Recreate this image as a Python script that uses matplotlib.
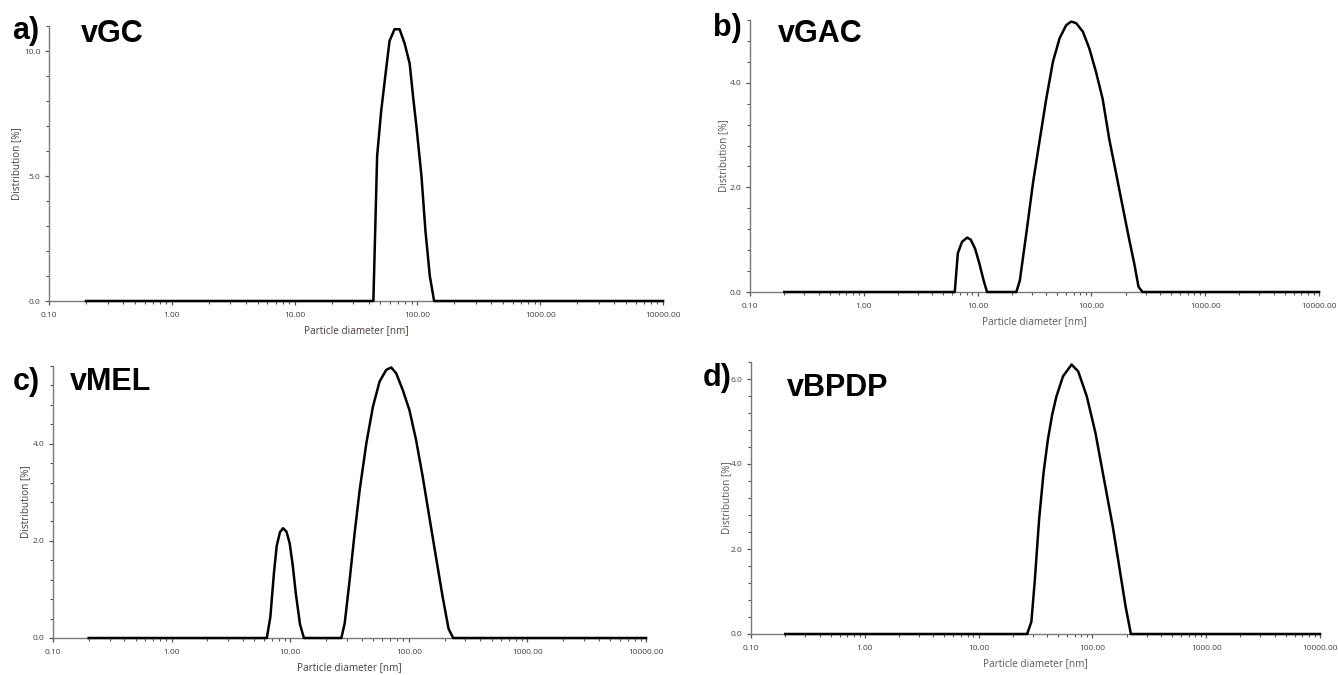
import numpy as np
import matplotlib.pyplot as plt
from matplotlib.ticker import MultipleLocator, LogLocator, FixedLocator, FixedFormatter, NullFormatter

# particle size distributions (diameter in nm, distribution in %)
d_vgc = [0.2, 43.8, 47.0, 50.7, 55.7, 59.3, 65.1, 71.6, 78.7, 86.5, 92.1, 98.1, 107.9, 116.3, 126.2, 136.8, 10000]
v_vgc = [0, 0, 5.8, 7.6, 9.3, 10.4, 10.87, 10.87, 10.3, 9.5, 8.2, 7.0, 5.0, 2.8, 1.0, 0, 0]

d_vgac = [0.2, 6.3, 6.7, 7.3, 8.1, 8.7, 9.5, 10.35, 11.3, 12.1,
          21.9, 23.5, 26.8, 30.7, 35.1, 40.1, 45.9, 52.5, 60.0, 66.4, 73.4, 84.0, 96.1,
          110, 125.6, 143.6, 164.4, 187.9, 215, 237.7, 259.4, 281, 10000]
v_vgac = [0, 0, 0.74, 0.96, 1.04, 1.0, 0.83, 0.55, 0.22, 0,
          0, 0.22, 1.12, 2.09, 2.9, 3.69, 4.4, 4.85, 5.1, 5.17, 5.14, 4.98, 4.65,
          4.2, 3.69, 2.92, 2.28, 1.64, 1.0, 0.55, 0.1, 0, 0]

d_vmel = [0.2, 6.35, 6.8, 7.3, 7.7, 8.2, 8.7, 9.3, 9.9, 10.5, 11.2, 12.1, 13.05,
          27.0, 28.8, 31.7, 34.9, 38.5, 43.8, 49.8, 56.7, 64.5, 71.1, 78.3, 89.1,
          101.3, 115.1, 131, 149, 169.4, 192.8, 216.4, 236.6, 10000]
v_vmel = [0, 0, 0.43, 1.35, 1.9, 2.18, 2.26, 2.19, 1.95, 1.5, 0.88, 0.28, 0,
          0, 0.3, 1.19, 2.15, 3.04, 4.0, 4.76, 5.28, 5.52, 5.57, 5.45, 5.1,
          4.69, 4.08, 3.32, 2.49, 1.67, 0.85, 0.19, 0, 0]

d_vbpdp = [0.2, 26.7, 29.1, 31.2, 34.0, 37.2, 40.6, 44.3, 48.3, 55.1, 65.6, 75.0, 89.3,
           106.4, 126.7, 151, 172, 196, 218, 10000]
v_vbpdp = [0, 0, 0.29, 1.27, 2.69, 3.79, 4.57, 5.16, 5.59, 6.06, 6.34, 6.18, 5.59,
           4.73, 3.63, 2.53, 1.59, 0.64, 0, 0]

letters = ["a)", "b)", "c)", "d)"]
names = ["vGC", "vGAC", "vMEL", "vBPDP"]
x_ticks = [0.1, 1, 10, 100, 1000, 10000]
x_labels = ["0.10", "1.00", "10.00", "100.00", "1000.00", "10000.00"]

W, H = 1338, 675
fig = plt.figure(figsize=(W / 100, H / 100), dpi=100)


def px_axes(left, top, right, bottom):
    return fig.add_axes([left / W, 1 - bottom / H, (right - left) / W, (bottom - top) / H])


def draw_panel(ax, d, v, ymax, major, minor, lab_color):
    ax.plot(d, v, color="black", lw=1.8, zorder=3, clip_on=False, solid_joinstyle="round")
    ax.set_xscale("log")
    ax.set_xlim(0.1, 10000)
    ax.set_ylim(0, ymax)
    ax.xaxis.set_major_locator(FixedLocator(x_ticks))
    ax.xaxis.set_major_formatter(FixedFormatter(x_labels))
    ax.xaxis.set_minor_locator(LogLocator(base=10, subs=np.arange(2, 10)))
    ax.xaxis.set_minor_formatter(NullFormatter())
    ax.yaxis.set_major_locator(MultipleLocator(major))
    ax.yaxis.set_minor_locator(MultipleLocator(minor))
    ax.yaxis.set_major_formatter(lambda y, p: f"{y:.1f}")
    for s in ["top", "right"]:
        ax.spines[s].set_visible(False)
    for s in ["left", "bottom"]:
        ax.spines[s].set_color("#7a7a7a")
        ax.spines[s].set_linewidth(1.0)
    ax.tick_params(axis="both", which="major", length=3.2, width=0.9, color="#555555",
                   labelsize=6, labelcolor="#404040")
    ax.tick_params(axis="both", which="minor", length=2.4, width=0.8, color="#555555")
    ax.tick_params(axis="x", which="major", pad=4.5)
    ax.tick_params(axis="y", which="major", pad=3)
    for lbl in ax.get_xticklabels() + ax.get_yticklabels():
        lbl.set_fontfamily("Open Sans")
    ax.set_xlabel("Particle diameter [nm]", fontsize=7.2, color=lab_color, family="Open Sans")
    ax.set_ylabel("Distribution [%]", fontsize=7.2, color=lab_color, family="Open Sans")


# (left, top, right, bottom) in pixels, ymax, major, minor, ylabel offset px
panels = [
    (px_axes(49, 26, 663, 301), d_vgc, v_vgc, 11.0, 5.0, 1.0, 32, "#4a3f3a"),
    (px_axes(750, 20, 1319, 292), d_vgac, v_vgac, 5.2, 2.0, 0.4, 26, "#5a5a5a"),
    (px_axes(53, 366, 646, 638), d_vmel, v_vmel, 5.6, 2.0, 0.4, 27, "#4a3f3a"),
    (px_axes(751, 362, 1320, 634), d_vbpdp, v_vbpdp, 6.4, 2.0, 0.4, 24, "#5a5a5a"),
]

for ax, d, v, ymax, major, minor, yoff, col in panels:
    draw_panel(ax, d, v, ymax, major, minor, col)
    bb = ax.get_position()
    wpx, hpx = bb.width * W, bb.height * H
    ax.yaxis.set_label_coords(-yoff / wpx, 0.5)
    ax.xaxis.set_label_coords(0.5, -30 / hpx)
    ax.xaxis.label.set_verticalalignment("center")
    ax.yaxis.label.set_verticalalignment("center")

# panel letters and sample names (pixel positions, baseline)
letter_pos = [(12, 39), (713, 36), (13, 390), (703, 386)]
name_pos = [(81, 42), (778, 42), (70, 390), (787, 396)]
for (lx, ly), (nx, ny), let, nm in zip(letter_pos, name_pos, letters, names):
    fig.text(lx / W, 1 - ly / H, let, fontsize=22, fontweight="bold",
             family="Liberation Sans", va="baseline", ha="left")
    fig.text(nx / W, 1 - ny / H, nm, fontsize=22, fontweight="bold",
             family="Liberation Sans", va="baseline", ha="left")

fig.savefig("out.png", dpi=100)
